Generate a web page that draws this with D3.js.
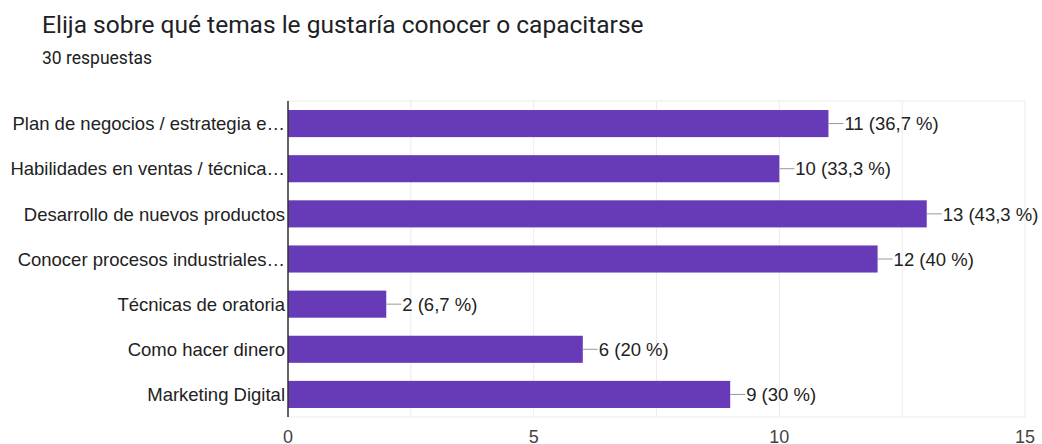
<!DOCTYPE html>
<html>
<head>
<meta charset="utf-8">
<script src="https://cdn.jsdelivr.net/npm/d3@7"></script>
<style>
  body { margin: 0; background: #fff; }
  svg { display: block; }
</style>
</head>
<body>
<svg id="chart" width="1042" height="444"></svg>
<script>
// survey answers
const categories = [
  'Plan de negocios / estrategia e…',
  'Habilidades en ventas / técnica…',
  'Desarrollo de nuevos productos',
  'Conocer procesos industriales…',
  'Técnicas de oratoria',
  'Como hacer dinero',
  'Marketing Digital'
];
const counts = [11, 10, 13, 12, 2, 6, 9];
const percents = ['36,7', '33,3', '43,3', '40', '6,7', '20', '30'];
const xTicks = [0, 5, 10, 15];
const gridTicks = [0, 2.5, 5, 7.5, 10, 12.5, 15];

const svg = d3.select('#chart');
const plotL = 288, plotR = 1025, plotT = 101, plotB = 417;
const labelFont = 'Arial, "Liberation Sans", sans-serif';

const x = d3.scaleLinear().domain([0, 15]).range([plotL, plotR]);
const y = d3.scaleBand().domain(categories).range([plotT, plotB]).paddingInner(0.4).paddingOuter(0.2);

// title
svg.append('text').attr('x', 42).attr('y', 33)
  .style('font-family', 'Roboto, sans-serif').style('font-size', '24.5px').style('fill', '#202124')
  .text('Elija sobre qué temas le gustaría conocer o capacitarse');
svg.append('text').attr('x', 42).attr('y', 64)
  .style('font-family', 'Roboto, sans-serif').style('font-size', '17.5px').style('fill', '#202124')
  .text('30 respuestas');

// grid
svg.append('g').selectAll('line').data(gridTicks).join('line')
  .attr('x1', d => x(d)).attr('x2', d => x(d))
  .attr('y1', plotT).attr('y2', plotB)
  .attr('stroke', '#ebebeb').attr('stroke-width', 1);
svg.append('line').attr('x1', plotL).attr('x2', plotR).attr('y1', plotT).attr('y2', plotT)
  .attr('stroke', '#ebebeb');
svg.append('line').attr('x1', plotL).attr('x2', plotR).attr('y1', plotB).attr('y2', plotB)
  .attr('stroke', '#ebebeb');

// bars
svg.append('g').selectAll('rect').data(categories).join('rect')
  .attr('x', x(0))
  .attr('y', d => y(d))
  .attr('width', (d, i) => x(counts[i]) - x(0))
  .attr('height', y.bandwidth())
  .attr('fill', '#673ab7');

// leader lines and value labels
const lbl = svg.append('g');
categories.forEach((c, i) => {
  const cy = y(c) + y.bandwidth() / 2;
  const xe = x(counts[i]);
  lbl.append('line').attr('x1', xe).attr('x2', xe + 15).attr('y1', cy).attr('y2', cy)
    .attr('stroke', '#999').attr('stroke-width', 1);
  lbl.append('text').attr('x', xe + 16).attr('y', cy).attr('dy', '0.36em')
    .style('font-family', labelFont).style('font-size', '18.5px').style('fill', '#222')
    .text(`${counts[i]} (${percents[i]} %)`);
});

// category labels
svg.append('g').selectAll('text').data(categories).join('text')
  .attr('x', plotL - 3)
  .attr('y', d => y(d) + y.bandwidth() / 2)
  .attr('dy', '0.36em')
  .attr('text-anchor', 'end')
  .style('font-family', labelFont).style('font-size', '18.5px').style('fill', '#222')
  .text(d => d);

// left axis line
svg.append('line').attr('x1', plotL).attr('x2', plotL).attr('y1', plotT).attr('y2', plotB)
  .attr('stroke', '#333').attr('stroke-width', 1.5);

// x tick labels
svg.append('g').selectAll('text').data(xTicks).join('text')
  .attr('x', d => x(d)).attr('y', 443)
  .attr('text-anchor', 'middle')
  .style('font-family', labelFont).style('font-size', '18px').style('fill', '#444')
  .text(d => d);
</script>
</body>
</html>
